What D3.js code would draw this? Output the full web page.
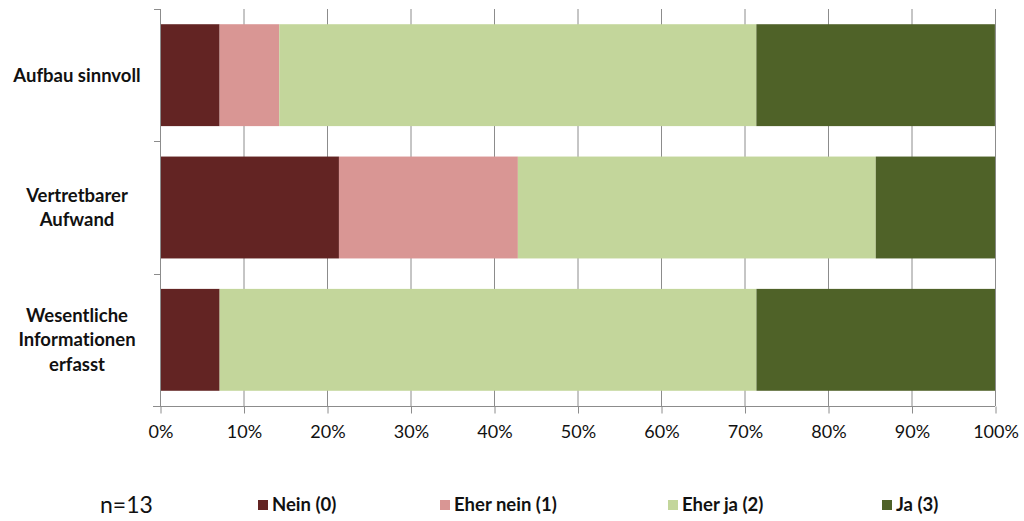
<!DOCTYPE html>
<html>
<head>
<meta charset="utf-8">
<script src="https://cdn.jsdelivr.net/npm/d3@7"></script>
<style>
  html, body { margin: 0; padding: 0; background: #fff; }
  svg { display: block; font-family: Lato, "Open Sans", sans-serif; font-variant-ligatures: none; }
</style>
</head>
<body>
<svg id="chart" width="1024" height="521"></svg>
<script>
// Survey answers, share of respondents per answer (percent)
const categories = ["Aufbau sinnvoll", "Vertretbarer Aufwand", "Wesentliche Informationen erfasst"];
const categoryLines = [["Aufbau sinnvoll"], ["Vertretbarer", "Aufwand"], ["Wesentliche", "Informationen", "erfasst"]];
const seriesNames = ["Nein (0)", "Eher nein (1)", "Eher ja (2)", "Ja (3)"];
const nein     = [7.14, 21.43, 7.14];
const eherNein = [7.14, 21.43, 0];
const eherJa   = [57.14, 42.86, 64.29];
const ja       = [28.57, 14.29, 28.57];
const xTicks = [0, 10, 20, 30, 40, 50, 60, 70, 80, 90, 100];
const colors = ["#632423", "#d99694", "#c3d69b", "#4f6228"];
const sampleLabel = "n=13";

const seriesValues = [nein, eherNein, eherJa, ja];
const rows = categories.map((c, i) => {
  const r = { cat: c };
  seriesNames.forEach((s, k) => { r[s] = seriesValues[k][i]; });
  return r;
});

const svg = d3.select("#chart");
const plotLeft = 160, plotRight = 995, plotTop = 9, plotBottom = 406;

const x = d3.scaleLinear().domain([0, 100]).range([plotLeft, plotRight]);
const y = d3.scaleBand().domain(categories).range([plotTop, plotBottom]).paddingInner(0.23).paddingOuter(0.115);

// vertical gridlines
svg.append("g").selectAll("line").data(xTicks.slice(1)).join("line")
  .attr("x1", d => x(d) + 0.5).attr("x2", d => x(d) + 0.5)
  .attr("y1", plotTop).attr("y2", plotBottom)
  .attr("stroke", "#8c8c8c").attr("stroke-width", 1);

// stacked bars
const stack = d3.stack().keys(seriesNames)(rows);
svg.append("g").selectAll("g").data(stack).join("g")
  .attr("fill", (d, i) => colors[i])
  .selectAll("rect").data(d => d).join("rect")
  .attr("x", d => x(d[0]))
  .attr("width", d => x(d[1]) - x(d[0]))
  .attr("y", d => y(d.data.cat))
  .attr("height", y.bandwidth());

// y axis line with category separators
const yAxis = svg.append("g");
yAxis.append("line")
  .attr("x1", plotLeft + 0.5).attr("x2", plotLeft + 0.5)
  .attr("y1", plotTop).attr("y2", plotBottom)
  .attr("stroke", "#8c8c8c");
const sep = categories.map((c, i) => plotTop + i * y.step()).concat([plotBottom]);
yAxis.selectAll("line.sep").data(sep).join("line")
  .attr("class", "sep")
  .attr("x1", plotLeft - 6).attr("x2", plotLeft)
  .attr("y1", d => Math.round(d) + 0.5).attr("y2", d => Math.round(d) + 0.5)
  .attr("stroke", "#8c8c8c");

// x axis
const xAxis = svg.append("g").attr("transform", `translate(0.5,${plotBottom + 0.5})`)
  .call(d3.axisBottom(x).tickValues(xTicks).tickFormat(d => d + "%").tickSize(7).tickSizeOuter(0));
xAxis.select(".domain").attr("stroke", "#8c8c8c").attr("d", `M${plotLeft - 7.5},0H${plotRight - 0.5}`);
xAxis.selectAll(".tick line").attr("stroke", "#8c8c8c");
xAxis.selectAll(".tick text")
  .attr("y", 19).attr("fill", "#111")
  .style("font-size", "18px").style("font-family", "Lato, sans-serif");

// category labels
const labels = svg.append("g");
categories.forEach((c, i) => {
  const lines = categoryLines[i];
  const cy = y(c) + y.bandwidth() / 2;
  const lh = 24.5;
  const t = labels.append("text")
    .attr("text-anchor", "middle")
    .attr("font-weight", "bold")
    .attr("font-size", "18.5px")
    .attr("fill", "#111");
  lines.forEach((ln, j) => {
    t.append("tspan")
      .attr("x", 77)
      .attr("y", cy + (j - (lines.length - 1) / 2) * lh)
      .attr("dy", "0.35em")
      .text(ln);
  });
});

// footer: sample size and legend
svg.append("text")
  .attr("x", 100).attr("y", 505).attr("dy", "0.35em")
  .attr("font-size", "23px").attr("fill", "#111")
  .text(sampleLabel);

const legendX = [258, 440, 668, 882];
const legend = svg.append("g").selectAll("g").data(seriesNames).join("g")
  .attr("transform", (d, i) => `translate(${legendX[i]},505)`);
legend.append("rect")
  .attr("x", 0).attr("y", -5).attr("width", 10).attr("height", 10)
  .attr("fill", (d, i) => colors[i]);
legend.append("text")
  .attr("x", 14).attr("dy", "0.35em")
  .attr("font-size", "18.5px").attr("font-weight", "bold").attr("fill", "#111")
  .text(d => d);
</script>
</body>
</html>
